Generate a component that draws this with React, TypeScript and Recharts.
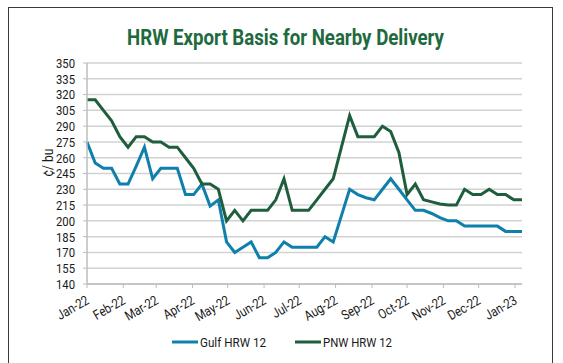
import { LineChart, Line, XAxis, YAxis, CartesianGrid } from "recharts";

const weekDates = [
  "2022-01-01", "2022-01-08", "2022-01-15", "2022-01-22", "2022-01-29",
  "2022-02-05", "2022-02-12", "2022-02-19", "2022-02-26",
  "2022-03-05", "2022-03-12", "2022-03-19", "2022-03-26",
  "2022-04-02", "2022-04-09", "2022-04-16", "2022-04-23", "2022-04-30",
  "2022-05-07", "2022-05-14", "2022-05-21", "2022-05-28",
  "2022-06-04", "2022-06-11", "2022-06-18", "2022-06-25",
  "2022-07-02", "2022-07-09", "2022-07-16", "2022-07-23", "2022-07-30",
  "2022-08-06", "2022-08-13", "2022-08-20", "2022-08-27",
  "2022-09-03", "2022-09-10", "2022-09-17", "2022-09-24",
  "2022-10-01", "2022-10-08", "2022-10-15", "2022-10-22", "2022-10-29",
  "2022-11-05", "2022-11-12", "2022-11-19", "2022-11-26",
  "2022-12-03", "2022-12-10", "2022-12-17", "2022-12-24", "2022-12-31",
  "2023-01-07",
];

const gulfHrw12 = [
  275, 255, 250, 250, 235, 235, 252, 270, 240, 250, 250, 250, 225, 225, 235,
  214, 220, 180, 170, 175, 180, 165, 165, 170, 180, 175, 175, 175, 175, 185,
  180, 205, 230, 225, 222, 220, 230, 240, 230, 220, 210, 210, 207, 203, 200,
  200, 195, 195, 195, 195, 195, 190, 190, 190,
];

const pnwHrw12 = [
  315, 315, 305, 295, 280, 270, 280, 280, 275, 275, 270, 270, 260, 250, 235,
  235, 230, 200, 210, 200, 210, 210, 210, 220, 240, 210, 210, 210, 220, 230,
  240, 270, 300, 280, 280, 280, 290, 285, 265, 225, 235, 220, 218, 216, 215,
  215, 230, 225, 225, 230, 225, 225, 220, 220,
];

const monthDates = [
  "2022-01-01", "2022-02-01", "2022-03-01", "2022-04-01", "2022-05-01",
  "2022-06-01", "2022-07-01", "2022-08-01", "2022-09-01", "2022-10-01",
  "2022-11-01", "2022-12-01", "2023-01-01",
];
const monthLabels = [
  "Jan-22", "Feb-22", "Mar-22", "Apr-22", "May-22", "Jun-22", "Jul-22",
  "Aug-22", "Sep-22", "Oct-22", "Nov-22", "Dec-22", "Jan-23",
];

const yTicks = [140, 155, 170, 185, 200, 215, 230, 245, 260, 275, 290, 305, 320, 335, 350];

const series = [
  { key: "gulf", name: "Gulf HRW 12", color: "#0f7fab" },
  { key: "pnw", name: "PNW HRW 12", color: "#1f5e3c" },
];

const dayOf = (d: string) => (Date.parse(d) - Date.parse("2022-01-01")) / 86400000;

const data = weekDates.map((d, i) => ({
  day: dayOf(d),
  gulf: gulfHrw12[i],
  pnw: pnwHrw12[i],
}));

const monthTicks = monthDates.map(dayOf);
const labelFor = (v: number) => monthLabels[monthTicks.indexOf(v)] ?? "";

const FONT = "Roboto, 'Noto Sans', sans-serif";

const XTick = ({ x, y, payload }: any) => (
  <g transform={`translate(${x + 3},${y + 13}) rotate(-30)`}>
    <text textAnchor="end" fontSize={13.5} fill="#1a1a1a" fontFamily={FONT} transform="scale(0.84,1)">
      {labelFor(payload.value)}
    </text>
  </g>
);

const YTick = ({ x, y, payload }: any) => (
  <g transform={`translate(${x},${y})`}>
    <text textAnchor="end" dy="0.36em" fontSize={13.5} fill="#1a1a1a" fontFamily={FONT} transform="scale(0.84,1)">
      {payload.value}
    </text>
  </g>
);

const YLabel = ({ viewBox }: any) => {
  const cy = viewBox.y + viewBox.height / 2 - 11;
  return (
    <g transform={`translate(53,${cy}) rotate(-90)`}>
      <text textAnchor="middle" fontSize={14} fill="#1a1a1a" fontFamily={FONT} transform="scale(0.86,1)">
        ¢/ bu
      </text>
    </g>
  );
};

export default function App() {
  return (
    <div style={{ position: "absolute", left: 0, top: 0, width: 563, height: 363, background: "#fff" }}>
      <div
        style={{
          position: "absolute",
          left: 8,
          top: 7,
          width: 543,
          height: 360,
          borderTop: "1.5px solid #3a3a3a",
          borderLeft: "1.5px solid #3a3a3a",
          borderRight: "1.5px solid #3a3a3a",
        }}
      />
      <div style={{ position: "absolute", left: 0, top: 0 }}>
        <LineChart width={563} height={363} data={data} margin={{ top: 63, right: 41, bottom: 0, left: 0 }}>
          <CartesianGrid vertical={false} stroke="#d2d2d2" strokeWidth={1.5} />
          <XAxis
            dataKey="day"
            type="number"
            domain={[0, 371]}
            ticks={monthTicks}
            interval={0}
            height={79}
            tick={<XTick />}
            tickSize={4}
            tickMargin={2}
            axisLine={{ stroke: "#bdbdbd", strokeWidth: 1.5 }}
            tickLine={{ stroke: "#bdbdbd" }}
          />
          <YAxis
            type="number"
            domain={[140, 350]}
            ticks={yTicks}
            interval={0}
            width={87}
            tick={<YTick />}
            tickSize={4}
            tickMargin={8}
            axisLine={{ stroke: "#bdbdbd", strokeWidth: 1.5 }}
            tickLine={{ stroke: "#bdbdbd" }}
            label={<YLabel />}
          />
          {series.map((s) => (
            <Line
              key={s.key}
              dataKey={s.key}
              name={s.name}
              stroke={s.color}
              strokeWidth={3}
              dot={false}
              type="linear"
              isAnimationActive={false}
            />
          ))}
        </LineChart>
      </div>
      <svg width={563} height={363} style={{ position: "absolute", left: 0, top: 0, pointerEvents: "none" }}>
        <text
          x={127}
          y={45}
          fontSize={22}
          fontWeight={700}
          fill="#1d6a3e"
          fontFamily={FONT}
          textLength={317}
          lengthAdjust="spacingAndGlyphs"
        >
          HRW Export Basis for Nearby Delivery
        </text>
        {series.map((s, i) => {
          const x0 = i === 0 ? 172 : 295;
          return (
            <g key={s.key}>
              <line x1={x0} x2={x0 + 26} y1={342} y2={342} stroke={s.color} strokeWidth={3} />
              <text x={x0 + 28} y={346.5} fontSize={13.5} fill="#1a1a1a" fontFamily={FONT} textLength={i === 0 ? 66 : 69} lengthAdjust="spacingAndGlyphs">
                {s.name}
              </text>
            </g>
          );
        })}
      </svg>
    </div>
  );
}
